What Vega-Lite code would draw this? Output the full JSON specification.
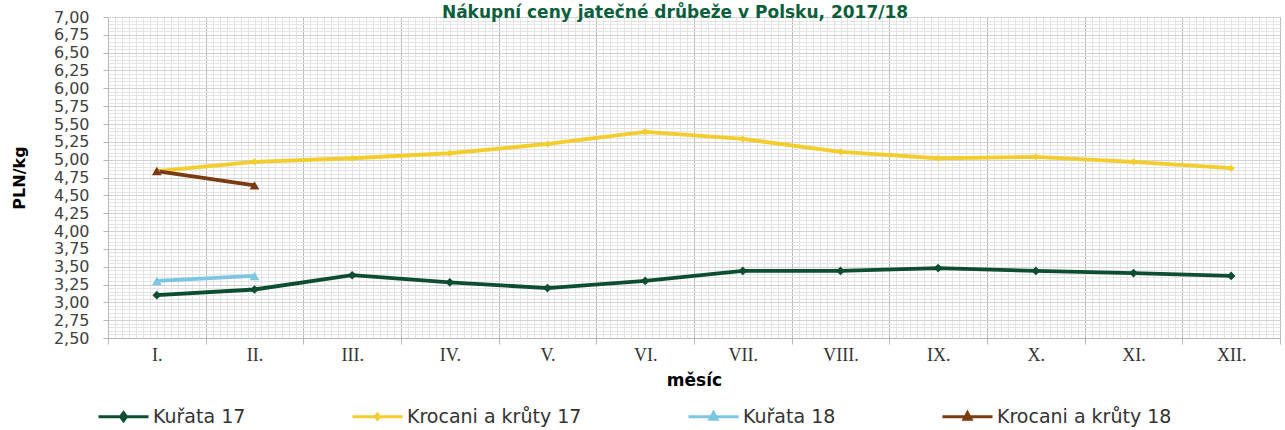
{
  "$schema": "https://vega.github.io/schema/vega-lite/v6.json",
  "width": 1172,
  "height": 321,
  "autosize": {"type": "none"},
  "padding": {"left": 108, "top": 17, "right": 5, "bottom": 92},
  "background": "white",
  "title": {
    "text": "Nákupní ceny jatečné drůbeže v Polsku, 2017/18",
    "frame": "group",
    "anchor": "middle",
    "dx": -19,
    "offset": -26,
    "baseline": "alphabetic",
    "font": "DejaVu Sans",
    "fontSize": 17,
    "fontWeight": "bold",
    "color": "#0b5e3c"
  },
  "config": {"view": {"stroke": null}},
  "data": {
    "values": [
      {"month": "I.", "series": "Kuřata 17", "price": 3.10},
      {"month": "II.", "series": "Kuřata 17", "price": 3.18},
      {"month": "III.", "series": "Kuřata 17", "price": 3.38},
      {"month": "IV.", "series": "Kuřata 17", "price": 3.28},
      {"month": "V.", "series": "Kuřata 17", "price": 3.20},
      {"month": "VI.", "series": "Kuřata 17", "price": 3.30},
      {"month": "VII.", "series": "Kuřata 17", "price": 3.44},
      {"month": "VIII.", "series": "Kuřata 17", "price": 3.44},
      {"month": "IX.", "series": "Kuřata 17", "price": 3.48},
      {"month": "X.", "series": "Kuřata 17", "price": 3.44},
      {"month": "XI.", "series": "Kuřata 17", "price": 3.41},
      {"month": "XII.", "series": "Kuřata 17", "price": 3.37},
      {"month": "I.", "series": "Krocani a krůty 17", "price": 4.84},
      {"month": "II.", "series": "Krocani a krůty 17", "price": 4.97},
      {"month": "III.", "series": "Krocani a krůty 17", "price": 5.02},
      {"month": "IV.", "series": "Krocani a krůty 17", "price": 5.09},
      {"month": "V.", "series": "Krocani a krůty 17", "price": 5.22},
      {"month": "VI.", "series": "Krocani a krůty 17", "price": 5.39},
      {"month": "VII.", "series": "Krocani a krůty 17", "price": 5.29},
      {"month": "VIII.", "series": "Krocani a krůty 17", "price": 5.11},
      {"month": "IX.", "series": "Krocani a krůty 17", "price": 5.02},
      {"month": "X.", "series": "Krocani a krůty 17", "price": 5.04},
      {"month": "XI.", "series": "Krocani a krůty 17", "price": 4.97},
      {"month": "XII.", "series": "Krocani a krůty 17", "price": 4.88},
      {"month": "I.", "series": "Kuřata 18", "price": 3.30},
      {"month": "II.", "series": "Kuřata 18", "price": 3.37},
      {"month": "I.", "series": "Krocani a krůty 18", "price": 4.84},
      {"month": "II.", "series": "Krocani a krůty 18", "price": 4.64}
    ]
  },
  "resolve": {"scale": {"x": "independent", "y": "independent"}},
  "layer": [
    {
      "mark": {"type": "point", "opacity": 0},
      "encoding": {
        "x": {
          "datum": 0,
          "type": "quantitative",
          "scale": {"domain": [0, 168], "nice": false},
          "axis": {"orient": "bottom", "grid": true, "gridColor": "#e4e4e4", "gridWidth": 1, "tickCount": 168, "labels": false, "ticks": false, "domain": false, "title": null}
        },
        "y": {
          "datum": 0,
          "type": "quantitative",
          "scale": {"domain": [0, 90], "nice": false},
          "axis": {"orient": "left", "grid": true, "gridColor": "#e4e4e4", "gridWidth": 1, "tickCount": 90, "labels": false, "ticks": false, "domain": false, "title": null}
        }
      }
    },
    {
      "encoding": {
        "x": {
          "field": "month",
          "type": "ordinal",
          "bandPosition": 0.5,
          "sort": ["I.", "II.", "III.", "IV.", "V.", "VI.", "VII.", "VIII.", "IX.", "X.", "XI.", "XII."],
          "scale": {"type": "band", "paddingInner": 0, "paddingOuter": 0},
          "axis": {
            "orient": "bottom",
            "tickBand": "extent",
            "grid": true,
            "gridColor": "#b8b8b8",
            "domainColor": "#b8b8b8",
            "tickColor": "#b8b8b8",
            "tickSize": 6,
            "labelAngle": 0,
            "labelFont": "Liberation Serif",
            "labelFontSize": 18,
            "labelColor": "#333333",
            "labelPadding": 2,
            "title": "měsíc",
            "titleFont": "DejaVu Sans",
            "titleFontSize": 17,
            "titleFontWeight": "bold",
            "titleColor": "#000000",
            "titlePadding": 8
          }
        },
        "y": {
          "field": "price",
          "type": "quantitative",
          "scale": {"domain": [2.5, 7], "nice": false, "zero": false},
          "axis": {
            "orient": "left",
            "values": [2.5, 2.75, 3, 3.25, 3.5, 3.75, 4, 4.25, 4.5, 4.75, 5, 5.25, 5.5, 5.75, 6, 6.25, 6.5, 6.75, 7],
            "labelExpr": "replace(format(datum.value, '.2f'), '.', ',')",
            "labelOverlap": false,
            "grid": true,
            "gridColor": "#d2d2d2",
            "domainColor": "#b8b8b8",
            "tickColor": "#b8b8b8",
            "tickSize": 5,
            "labelFont": "DejaVu Sans",
            "labelFontSize": 16,
            "labelColor": "#404040",
            "labelPadding": 14,
            "title": "PLN/kg",
            "titleFont": "DejaVu Sans",
            "titleFontSize": 16,
            "titleFontWeight": "bold",
            "titleColor": "#000000",
            "titlePadding": 26
          }
        },
        "color": {
          "field": "series",
          "type": "nominal",
          "scale": {
            "domain": ["Kuřata 17", "Krocani a krůty 17", "Kuřata 18", "Krocani a krůty 18"],
            "range": ["#0d4d31", "#f3cd2c", "#7cc6e2", "#7a3a12"]
          },
          "legend": {
            "orient": "none",
            "legendX": -11,
            "legendY": 373,
            "direction": "horizontal",
            "title": null,
            "columnPadding": 100,
            "symbolType": "M-1,0H1",
            "symbolSize": 2500,
            "symbolStrokeWidth": 3,
            "labelFont": "DejaVu Sans",
            "labelFontSize": 19,
            "labelLimit": 400,
            "labelColor": "#333333",
            "labelOffset": 3,
            "encode": {
              "symbols": {
                "update": {
                  "shape": {"signal": "datum.value == 'Kuřata 17' ? 'M-1,0H1M0,-0.16L0.12,0L0,0.16L-0.12,0Z' : datum.value == 'Krocani a krůty 17' ? 'M-1,0H1M0,-0.1L0.08,0L0,0.1L-0.08,0Z' : 'M-1,0H1M0,-0.16L0.14,0.1L-0.14,0.1Z'"},
                  "fill": {"signal": "scale('color', datum.value)"},
                  "strokeWidth": {"value": 3}
                }
              }
            }
          }
        }
      },
      "layer": [
        {"mark": {"type": "line", "strokeWidth": 3.8}},
        {
          "transform": [{"filter": "datum.series == 'Kuřata 17'"}],
          "mark": {"type": "point", "filled": true, "opacity": 1, "shape": "diamond", "size": 75}
        },
        {
          "transform": [{"filter": "datum.series == 'Krocani a krůty 17'"}],
          "mark": {"type": "point", "filled": true, "opacity": 1, "shape": "diamond", "size": 50}
        },
        {
          "transform": [{"filter": "datum.series == 'Kuřata 18' || datum.series == 'Krocani a krůty 18'"}],
          "mark": {"type": "point", "filled": true, "opacity": 1, "shape": "triangle-up", "size": 95}
        }
      ]
    }
  ]
}
